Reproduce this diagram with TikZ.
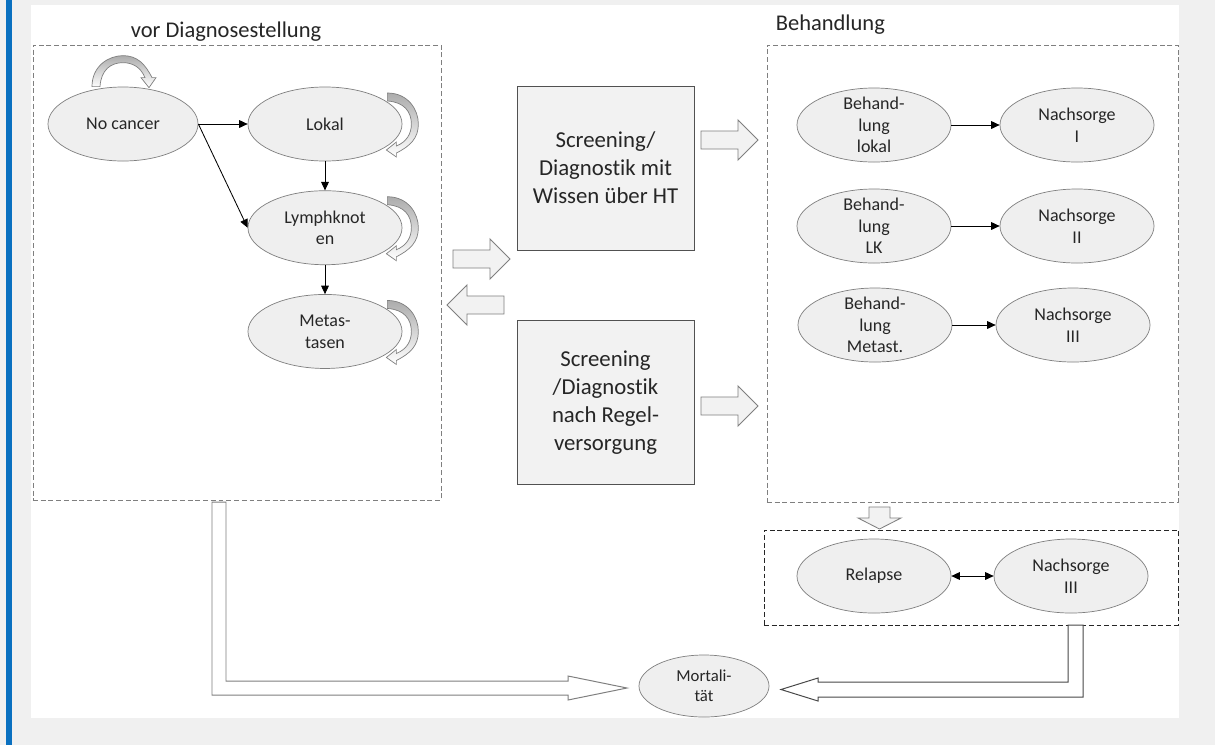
\documentclass[tikz,border=0pt]{standalone}
\usepackage{fontspec}
\setmainfont{Carlito}[Ligatures=NoCommon]
\usetikzlibrary{shapes.geometric, arrows.meta, positioning}

\definecolor{pagegray}{HTML}{F0F0F0}
\definecolor{barblue}{HTML}{0A70C0}
\definecolor{stategray}{HTML}{EFEFEF}
\definecolor{boxgray}{HTML}{F2F2F2}
\definecolor{linegray}{HTML}{7F7F7F}
\definecolor{inkgray}{HTML}{262626}

\begin{document}
\begin{tikzpicture}[x=0.025cm, y=-0.025cm,
    state/.style={ellipse, draw=linegray, fill=stategray, line width=0.5pt, inner sep=0pt, minimum width=3.85cm, minimum height=1.85cm},
    statetext/.style={font=\fontsize{12.8}{15.4}\selectfont, align=center, text=inkgray, inner sep=0pt},
    screen/.style={rectangle, draw=inkgray!80, fill=boxgray, line width=0.6pt, minimum width=4.425cm, minimum height=4.1cm, align=center, font=\fontsize{16.2}{19.8}\selectfont, text=inkgray},
    group/.style={rectangle, draw=linegray, dash pattern=on 3.5pt off 2pt, line width=0.6pt, inner sep=0pt},
    grouptitle/.style={font=\fontsize{16}{19}\selectfont, text=inkgray, inner sep=0pt},
    conn/.style={-{Triangle[length=6pt, width=5.5pt]}, line width=0.6pt},
    block/.style={draw=linegray, fill=boxgray, line width=0.6pt},
    hollow/.style={draw=linegray, fill=white, line width=0.7pt},
    loopfill/.style={draw=linegray, top color=gray!65, bottom color=white, line width=0.5pt},
    blockarrow/.pic={\draw[block] (0,-9) -- (37,-9) -- (37,-20) -- (57,0) -- (37,20) -- (37,9) -- (0,9) -- cycle;},
    selfloop/.pic={\draw[loopfill] (-15,-31) .. controls (6,-31) and (16,-14) .. (16,0) .. controls (16,14) and (8,22) .. (-6,29) -- (-6,33) -- (-16,26) -- (-6,18) -- (-6,22) .. controls (4,18) and (9,10) .. (9,0) .. controls (9,-12) and (2,-22) .. (-15,-23) -- cycle;}
  ]
  \useasboundingbox (0,0) rectangle (1215,745);

  % page
  \fill[pagegray] (0,0) rectangle (1215,745);
  \fill[white] (31,5) rectangle (1179,718);
  \fill[barblue] (6,0) rectangle (12,745);

  % groups
  \node[group, minimum width=10.2cm, minimum height=11.375cm] (vorbox) at (237,272.5) {};
  \node[group, minimum width=10.275cm, minimum height=11.425cm] (behbox) at (972.5,273.5) {};
  \node[group, draw=inkgray, minimum width=10.35cm, minimum height=2.375cm] (relbox) at (971,577.5) {};
  \node[grouptitle, above=0.075cm of vorbox, xshift=-0.275cm] {vor Diagnosestellung};
  \node[grouptitle, above right=0.25cm and 0.225cm of behbox.north west] {Behandlung};

  % before diagnosis
  \node[state, minimum width=3.75cm, label={[statetext]center:No cancer}] (nocancer) at (123,124) {};
  \node[state, label={[statetext]center:Lokal}] (lokal) at (325,124) {};
  \node[state, below=0.725cm of lokal, label={[statetext]center:Lymphknot\\en}] (lymph) {};
  \node[state, below=0.725cm of lymph, label={[statetext]center:Metas-\\tasen}] (metas) {};

  \pic at (lokal.east) {selfloop};
  \pic at (lymph.east) {selfloop};
  \pic at (metas.east) {selfloop};
  \pic[rotate=90] at ([shift={(0,-15)}]nocancer.north) {selfloop};

  \draw[conn] (nocancer) -- (lokal);
  \draw[conn] (nocancer.east) -- (lymph.west);
  \draw[conn] (lokal) -- (lymph);
  \draw[conn] (lymph) -- (metas);

  % screening
  \node[screen] (screenht) at (605.5,168) {Screening/\\Diagnostik mit\\Wissen über HT};
  \node[screen] (screenregel) at (605.5,402.5) {Screening\\/Diagnostik\\nach Regel-\\versorgung};

  \pic at (701,140) {blockarrow};
  \pic at (453,259) {blockarrow};
  \pic[rotate=180] at (504,305) {blockarrow};
  \pic at (701,406) {blockarrow};

  % treatment
  \node[state, label={[statetext]center:Behand-\\lung\\lokal}] (behlokal) at (874,125) {};
  \node[state, label={[statetext]center:Nachsorge\\I}] (nach1) at (1077,125) {};
  \node[state, label={[statetext]center:Behand-\\lung\\LK}] (behlk) at (874,226) {};
  \node[state, label={[statetext]center:Nachsorge\\II}] (nach2) at (1077,226) {};
  \node[state, label={[statetext]center:Behand-\\lung\\Metast.}] (behmet) at (875,325) {};
  \node[state, label={[statetext]center:Nachsorge\\III}] (nach3) at (1073,325) {};

  \draw[conn] (behlokal) -- (nach1);
  \draw[conn] (behlk) -- (nach2);
  \draw[conn] (behmet) -- (nach3);

  \draw[block] (869,507) -- (869,518) -- (858,518) -- (879.5,529) -- (901,518) -- (890,518) -- (890,507) -- cycle;

  % relapse
  \node[state, label={[statetext]center:Relapse}] (relapse) at (874,576) {};
  \node[state, label={[statetext]center:Nachsorge\\III}] (nach3b) at (1071,576) {};
  \draw[conn, {Triangle[length=6pt, width=5.5pt]}-{Triangle[length=6pt, width=5.5pt]}] (relapse) -- (nach3b);

  % mortality
  \node[state, minimum width=3.25cm, minimum height=1.55cm, label={[statetext, font=\fontsize{11.9}{14.3}\selectfont]center:Mortali-\\tät}] (mortal) at (704,686) {};

  \draw[hollow] (212,502) -- (212,695) -- (568,695) -- (568,700) -- (627,688) -- (568,676) -- (568,681) -- (226,681) -- (226,502) -- cycle;
  \draw[hollow, draw=inkgray!85] (1068,625) -- (1068,682) -- (818,682) -- (818,678) -- (781,689.5) -- (818,701) -- (818,697) -- (1083,697) -- (1083,625) -- cycle;

\end{tikzpicture}
\end{document}
